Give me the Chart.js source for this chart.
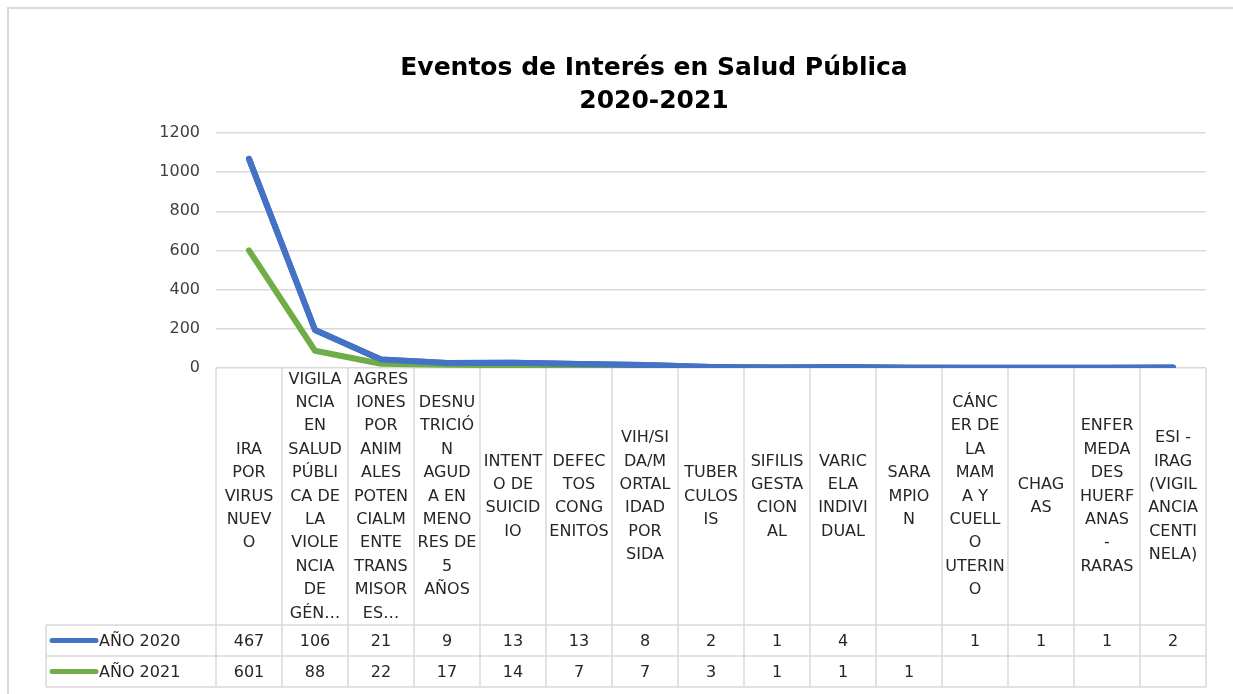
<!DOCTYPE html>
<html>
<head>
<meta charset="utf-8">
<script src="https://cdn.jsdelivr.net/npm/chart.js@4"></script>
<style>
  html, body { margin: 0; padding: 0; background: #fff; overflow: hidden; }
  #wrap { width: 1233px; height: 694px; }
  canvas { display: block; }
</style>
</head>
<body>
<div id="wrap"><canvas id="eventosChart" width="1233" height="694"></canvas></div>
<script>
// category labels, split the way they wrap in the table header
const categorias = [
    ['IRA', 'POR', 'VIRUS', 'NUEV', 'O'],
    ['VIGILA', 'NCIA', 'EN', 'SALUD', 'PÚBLI', 'CA DE', 'LA', 'VIOLE', 'NCIA', 'DE', 'GÉN…'],
    ['AGRES', 'IONES', 'POR', 'ANIM', 'ALES', 'POTEN', 'CIALM', 'ENTE', 'TRANS', 'MISOR', 'ES…'],
    ['DESNU', 'TRICIÓ', 'N', 'AGUD', 'A EN', 'MENO', 'RES DE', '5', 'AÑOS'],
    ['INTENT', 'O DE', 'SUICID', 'IO'],
    ['DEFEC', 'TOS', 'CONG', 'ENITOS'],
    ['VIH/SI', 'DA/M', 'ORTAL', 'IDAD', 'POR', 'SIDA'],
    ['TUBER', 'CULOS', 'IS'],
    ['SIFILIS', 'GESTA', 'CION', 'AL'],
    ['VARIC', 'ELA', 'INDIVI', 'DUAL'],
    ['SARA', 'MPIO', 'N'],
    ['CÁNC', 'ER DE', 'LA', 'MAM', 'A Y', 'CUELL', 'O', 'UTERIN', 'O'],
    ['CHAG', 'AS'],
    ['ENFER', 'MEDA', 'DES', 'HUERF', 'ANAS', '-', 'RARAS'],
    ['ESI -', 'IRAG', '(VIGIL', 'ANCIA', 'CENTI', 'NELA)']
];

const anio2020 = [467, 106, 21, 9, 13, 13, 8, 2, 1, 4, null, 1, 1, 1, 2];
const anio2021 = [601, 88, 22, 17, 14, 7, 7, 3, 1, 1, 1, null, null, null, null];

const yTicks = [0, 200, 400, 600, 800, 1000, 1200];
const titulo = ['Eventos de Interés en Salud Pública', '2020-2021'];

const azul = '#4472C4';
const verde = '#70AD47';
const gris = '#D9D9D9';
const fuente = '"DejaVu Sans", sans-serif';

// the 2020 line sits on top of the stack, so draw it again after the base
const azulEncima = {
    id: 'azulEncima',
    afterDatasetsDraw(chart) {
        const meta = chart.getDatasetMeta(1);
        const area = chart.chartArea;
        const ctx = chart.ctx;
        ctx.save();
        ctx.beginPath();
        ctx.rect(area.left - 5, area.top - 5, area.right - area.left + 10, area.bottom - area.top + 5);
        ctx.clip();
        meta.controller.draw();
        ctx.restore();
    }
};

// title, border and data table under the plot (category header + one row per year)
const tablaDatos = {
    id: 'tablaDatos',
    afterDraw(chart) {
        const ctx = chart.ctx;
        const x = chart.scales.x;
        const area = chart.chartArea;
        const n = categorias.length;
        const paso = (area.right - area.left) / n;
        const top = area.bottom;
        const fila1 = 625, fila2 = 656, fondo = 687;
        const legIzq = 46;

        ctx.save();
        // outer chart border
        ctx.strokeStyle = gris;
        ctx.lineWidth = 2;
        ctx.beginPath();
        ctx.moveTo(8, 700);
        ctx.lineTo(8, 8);
        ctx.lineTo(1240, 8);
        ctx.stroke();

        // title
        ctx.fillStyle = '#000';
        ctx.font = 'bold 25px ' + fuente;
        ctx.textAlign = 'center';
        ctx.textBaseline = 'middle';
        ctx.fillText(titulo[0], 654, 68);
        ctx.fillText(titulo[1], 654, 101);

        // grid of the table
        ctx.lineWidth = 1.5;
        ctx.beginPath();
        for (let i = 0; i <= n; i++) {
            const xx = area.left + i * paso;
            ctx.moveTo(xx, top);
            ctx.lineTo(xx, fondo);
        }
        ctx.moveTo(legIzq, fila1);
        ctx.lineTo(legIzq, fondo);
        [fila1, fila2, fondo].forEach(yy => {
            ctx.moveTo(legIzq, yy);
            ctx.lineTo(area.right, yy);
        });
        ctx.stroke();

        // header labels
        ctx.fillStyle = '#262626';
        ctx.font = '16px ' + fuente;
        const lh = 23.4;
        const medio = (top + fila1) / 2;
        categorias.forEach((lineas, i) => {
            const cx = x.getPixelForValue(i);
            const y0 = medio - (lineas.length - 1) * lh / 2;
            lineas.forEach((t, k) => ctx.fillText(t, cx, y0 + k * lh, paso - 4));
        });

        // values
        const filas = [[anio2020, fila1, fila2], [anio2021, fila2, fondo]];
        filas.forEach(([vals, a, b]) => {
            vals.forEach((v, i) => {
                if (v === null) return;
                ctx.fillText(String(v), x.getPixelForValue(i), (a + b) / 2 + 1);
            });
        });

        // legend keys
        const series = [[chart.data.datasets[1], fila1, fila2], [chart.data.datasets[0], fila2, fondo]];
        series.forEach(([ds, a, b]) => {
            const yy = (a + b) / 2;
            ctx.strokeStyle = ds.borderColor;
            ctx.lineWidth = 5;
            ctx.lineCap = 'round';
            ctx.beginPath();
            ctx.moveTo(52, yy);
            ctx.lineTo(96, yy);
            ctx.stroke();
            ctx.fillStyle = '#262626';
            ctx.textAlign = 'left';
            ctx.fillText(ds.label, 99, yy + 1);
        });
        ctx.restore();
    }
};

const eventosData = {
    labels: categorias.map(c => c.join(' ')),
    datasets: [{
        label: 'AÑO 2021',
        data: anio2021.map(v => v ?? 0),
        borderColor: verde,
        backgroundColor: verde,
        borderWidth: 6,
        borderCapStyle: 'round',
        borderJoinStyle: 'round',
        pointRadius: 0,
        tension: 0,
        fill: false,
    }, {
        label: 'AÑO 2020',
        data: anio2020.map(v => v ?? 0),
        borderColor: azul,
        backgroundColor: azul,
        borderWidth: 6,
        borderCapStyle: 'round',
        borderJoinStyle: 'round',
        pointRadius: 0,
        tension: 0,
        fill: false,
    }],
};

const eventosConfig = {
    type: 'line',
    data: eventosData,
    options: {
        responsive: false,
        animation: false,
        layout: {
            padding: { left: 0, right: 27, top: 133, bottom: 326 },
        },
        scales: {
            x: {
                display: false,
                offset: true,
            },
            y: {
                stacked: true,
                min: 0,
                max: 1200,
                afterFit(scale) { scale.width = 216; },
                afterBuildTicks(scale) { scale.ticks = yTicks.map(v => ({ value: v })); },
                border: { display: false },
                grid: { color: gris, lineWidth: 1.5, drawTicks: false },
                ticks: {
                    padding: 16,
                    color: '#404040',
                    font: { family: fuente, size: 16 },
                    callback: v => String(v),
                },
            },
        },
        plugins: {
            legend: { display: false },
            tooltip: { enabled: false },
            title: { display: false },
        },
    },
    plugins: [azulEncima, tablaDatos],
};

const eventosChart = new Chart(document.getElementById('eventosChart').getContext('2d'), eventosConfig);
</script>
</body>
</html>
